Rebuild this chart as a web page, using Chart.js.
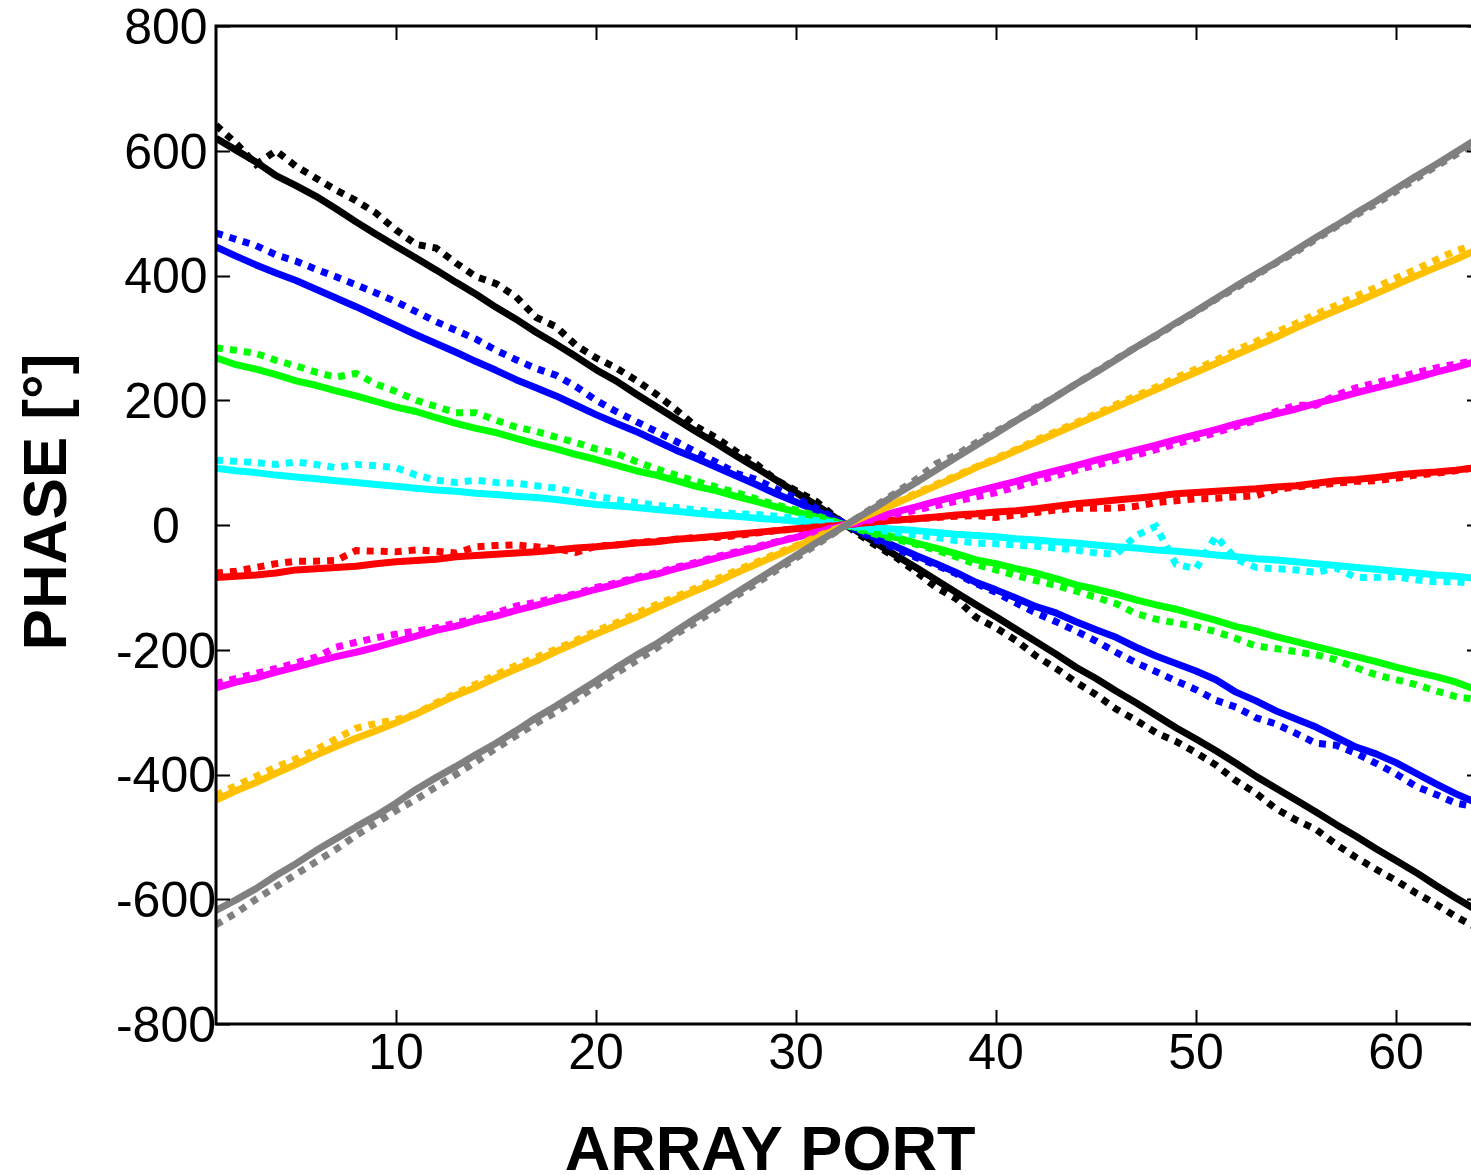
<!DOCTYPE html>
<html>
<head>
<meta charset="utf-8">
<script src="https://cdn.jsdelivr.net/npm/chart.js@4.4.1/dist/chart.umd.min.js"></script>
<style>
  html, body { margin: 0; padding: 0; background: #ffffff; overflow: hidden; }
</style>
</head>
<body>
<canvas id="chartPhase" width="1471" height="1175"></canvas>
<script>
// ===========================================
// PHASE vs ARRAY PORT - solid / dotted pairs for 8 steering settings
// ===========================================

const ports = [
    1, 2, 3, 4, 5, 6, 7, 8, 9, 10, 11, 12, 13, 14, 15, 16,
    17, 18, 19, 20, 21, 22, 23, 24, 25, 26, 27, 28, 29, 30, 31, 32,
    33, 34, 35, 36, 37, 38, 39, 40, 41, 42, 43, 44, 45, 46, 47, 48,
    49, 50, 51, 52, 53, 54, 55, 56, 57, 58, 59, 60, 61, 62, 63, 64
];

const xTickValues = [10, 20, 30, 40, 50, 60];
const yTickValues = [-800, -600, -400, -200, 0, 200, 400, 600, 800];

const blackSolid = [
    620, 601, 582, 560, 544, 527, 507, 486, 466, 447, 428, 409, 389, 370, 349, 330,
    309, 290, 270, 249, 231, 210, 190, 170, 150, 131, 111, 92, 72, 52, 32, 11,
    -9, -29, -49, -68, -88, -108, -128, -147, -167, -187, -207, -228, -246, -266, -285, -305,
    -325, -343, -362, -382, -403, -422, -441, -460, -480, -499, -519, -538, -557, -578, -598, -617
];
const blackDotted = [
    641, 612, 578, 600, 575, 556, 537, 520, 500, 473, 450, 444, 420, 398, 387, 366,
    333, 318, 288, 268, 252, 232, 210, 185, 158, 140, 118, 98, 72, 55, 38, 12,
    -12, -33, -52, -75, -100, -118, -148, -165, -185, -210, -230, -252, -272, -295, -313, -333,
    -347, -365, -385, -410, -430, -455, -473, -488, -512, -533, -552, -570, -590, -608, -628, -645
];
const blueSolid = [
    446, 431, 417, 404, 392, 378, 364, 350, 335, 320, 305, 291, 277, 262, 248, 233,
    220, 207, 192, 177, 163, 150, 135, 120, 107, 93, 79, 65, 50, 37, 23, 8,
    -7, -21, -35, -49, -62, -76, -92, -104, -117, -131, -141, -155, -168, -180, -196, -210,
    -222, -234, -248, -268, -282, -298, -311, -324, -340, -356, -367, -381, -398, -415, -431, -445
];
const blueDotted = [
    468, 458, 448, 433, 423, 410, 398, 385, 372, 358, 342, 326, 312, 298, 280, 265,
    251, 240, 222, 200, 182, 166, 150, 134, 117, 101, 83, 73, 58, 43, 27, 10,
    -8, -24, -38, -52, -64, -78, -94, -108, -125, -141, -155, -170, -186, -204, -221, -235,
    -250, -264, -281, -292, -309, -319, -334, -350, -353, -366, -382, -399, -419, -432, -446, -452
];
const greenSolid = [
    268, 257, 250, 241, 231, 224, 215, 207, 198, 189, 182, 172, 163, 155, 148, 139,
    130, 122, 113, 105, 96, 87, 80, 71, 62, 55, 46, 38, 29, 21, 13, 4,
    -4, -13, -20, -29, -37, -46, -56, -62, -70, -77, -86, -96, -103, -111, -120, -128,
    -135, -144, -153, -163, -170, -179, -187, -195, -203, -211, -219, -228, -236, -243, -252, -264
];
const greenDotted = [
    284, 280, 275, 264, 255, 245, 237, 243, 226, 214, 200, 190, 180, 180, 168, 157,
    150, 141, 132, 122, 115, 102, 90, 80, 70, 61, 52, 42, 32, 24, 15, 5,
    -6, -15, -23, -31, -40, -51, -63, -72, -81, -89, -97, -106, -116, -126, -142, -151,
    -157, -163, -171, -182, -194, -198, -203, -208, -216, -229, -240, -248, -256, -266, -275, -280
];
const cyanSolid = [
    91, 87, 84, 80, 77, 74, 71, 68, 65, 62, 59, 56, 54, 51, 49, 46,
    44, 41, 37, 33, 31, 28, 25, 22, 19, 16, 14, 11, 9, 6, 4, 1,
    -2, -4, -7, -9, -12, -15, -17, -19, -22, -24, -27, -29, -32, -35, -37, -40,
    -42, -45, -48, -51, -54, -56, -59, -62, -65, -68, -71, -74, -77, -80, -82, -86
];
const cyanDotted = [
    104, 102, 100, 97, 101, 97, 92, 97, 95, 92, 80, 72, 68, 72, 68, 67,
    63, 59, 53, 46, 41, 36, 32, 28, 24, 21, 18, 17, 14, 11, 7, 3,
    -3, -8, -12, -16, -20, -25, -29, -30, -32, -34, -37, -40, -45, -47, -17, -2,
    -63, -70, -18, -55, -68, -70, -72, -76, -69, -84, -84, -83, -88, -91, -91, -94
];
const redSolid = [
    -84, -82, -80, -77, -72, -70, -68, -66, -62, -59, -57, -55, -51, -49, -47, -45,
    -43, -40, -37, -35, -32, -29, -27, -23, -21, -18, -15, -12, -9, -6, -4, -1,
    2, 5, 8, 10, 13, 16, 18, 21, 23, 26, 30, 34, 37, 40, 43, 46,
    50, 52, 54, 56, 58, 61, 63, 67, 71, 73, 76, 80, 83, 85, 88, 92
];
const redDotted = [
    -77, -74, -68, -62, -58, -58, -57, -41, -42, -43, -40, -42, -45, -35, -33, -32,
    -35, -38, -44, -34, -32, -28, -26, -23, -20, -20, -17, -13, -9, -6, -3, -1,
    2, 5, 8, 10, 12, 14, 15, 12, 16, 20, 24, 27, 27, 27, 30, 36,
    39, 42, 43, 45, 47, 57, 61, 64, 67, 70, 71, 75, 80, 83, 87, 92
];
const magentaSolid = [
    -261, -252, -245, -236, -228, -219, -211, -204, -196, -187, -178, -169, -162, -153, -146, -137,
    -129, -120, -112, -103, -95, -86, -79, -70, -62, -53, -45, -37, -28, -20, -12, -4,
    4, 12, 21, 29, 38, 46, 54, 62, 70, 79, 87, 95, 104, 112, 120, 128,
    137, 145, 153, 162, 170, 178, 186, 195, 203, 212, 220, 228, 236, 245, 253, 262
];
const magentaDotted = [
    -254, -246, -238, -230, -221, -212, -196, -188, -181, -175, -170, -165, -157, -150, -141, -130,
    -124, -117, -110, -100, -93, -84, -77, -68, -60, -51, -43, -35, -27, -19, -11, -3,
    3, 10, 17, 24, 31, 38, 45, 52, 61, 70, 79, 88, 96, 104, 112, 121,
    130, 139, 148, 158, 168, 182, 192, 192, 208, 220, 228, 236, 244, 252, 258, 264
];
const orangeSolid = [
    -441, -426, -413, -398, -384, -369, -355, -342, -330, -317, -303, -288, -273, -260, -245, -231,
    -218, -203, -189, -175, -161, -148, -133, -119, -105, -92, -77, -63, -49, -35, -21, -7,
    7, 21, 35, 49, 63, 77, 92, 105, 119, 133, 147, 161, 175, 189, 203, 217,
    231, 245, 259, 273, 287, 301, 316, 330, 344, 357, 371, 385, 399, 413, 426, 441
];
const orangeDotted = [
    -433, -418, -403, -388, -375, -360, -343, -326, -318, -312, -303, -285, -270, -255, -240, -225,
    -212, -199, -185, -170, -157, -142, -128, -115, -101, -87, -73, -60, -46, -33, -19, -6,
    8, 22, 36, 51, 65, 79, 93, 107, 121, 136, 150, 164, 178, 193, 207, 221,
    236, 250, 264, 280, 294, 309, 323, 338, 352, 367, 381, 396, 410, 425, 440, 449
];
const graySolid = [
    -618, -601, -583, -562, -543, -522, -503, -484, -466, -446, -424, -405, -387, -368, -350, -330,
    -309, -290, -270, -250, -229, -209, -191, -170, -149, -129, -109, -89, -69, -49, -29, -10,
    10, 29, 49, 68, 88, 108, 128, 147, 167, 186, 206, 226, 245, 265, 285, 304,
    324, 343, 363, 383, 402, 421, 441, 461, 480, 500, 519, 539, 559, 578, 598, 618
];
const grayDotted = [
    -641, -622, -600, -580, -560, -540, -520, -498, -478, -458, -440, -420, -400, -380, -358, -338,
    -318, -300, -280, -258, -238, -218, -198, -175, -156, -135, -114, -94, -73, -53, -32, -11,
    10, 31, 52, 73, 98, 112, 132, 150, 167, 188, 206, 226, 246, 266, 285, 303,
    323, 342, 362, 380, 400, 420, 438, 458, 478, 497, 515, 535, 555, 575, 594, 613
];

const seriesNames = ['black', 'blue', 'green', 'cyan', 'red', 'magenta', 'orange', 'gray'];
const seriesColors = ['#000000', '#0000ff', '#00ff00', '#00ffff', '#ff0000', '#ff00ff', '#ffc000', '#808080'];
const solidSeries = [blackSolid, blueSolid, greenSolid, cyanSolid, redSolid, magentaSolid, orangeSolid, graySolid];
const dottedSeries = [blackDotted, blueDotted, greenDotted, cyanDotted, redDotted, magentaDotted, orangeDotted, grayDotted];

const FONT = '"Liberation Sans", Arial, Helvetica, sans-serif';

// ============================
// DATASETS (later series drawn on top)
// ============================
const datasets = [];
seriesNames.forEach((name, i) => {
    datasets.push({
        label: name + ' solid',
        data: ports.map((p, k) => ({ x: p, y: solidSeries[i][k] })),
        borderColor: seriesColors[i],
        borderWidth: 7,
        borderJoinStyle: 'round',
        pointRadius: 0,
        tension: 0,
        order: 100 - i * 2
    });
    datasets.push({
        label: name + ' dotted',
        data: ports.map((p, k) => ({ x: p, y: dottedSeries[i][k] })),
        borderColor: seriesColors[i],
        borderWidth: 7,
        borderDash: [7, 7],
        borderCapStyle: 'butt',
        pointRadius: 0,
        tension: 0,
        order: 99 - i * 2
    });
});

// ============================
// FRAME, INWARD TICKS AND AXIS TITLES
// ============================
const axisFrame = {
    id: 'axisFrame',
    afterDatasetsDraw(chart) {
        const { ctx, chartArea: a, scales: { x, y } } = chart;
        ctx.save();
        ctx.strokeStyle = '#000';
        ctx.lineCap = 'butt';

        ctx.lineWidth = 3;
        ctx.beginPath();
        ctx.moveTo(a.right + 2, a.top);
        ctx.lineTo(a.left, a.top);
        ctx.lineTo(a.left, a.bottom);
        ctx.lineTo(a.right + 2, a.bottom);
        ctx.stroke();

        ctx.lineWidth = 2;
        ctx.beginPath();
        yTickValues.forEach(v => {
            const py = Math.round(y.getPixelForValue(v)) + 0.5;
            ctx.moveTo(a.left, py);
            ctx.lineTo(a.left + 14, py);
            ctx.moveTo(a.right - 4, py);
            ctx.lineTo(a.right, py);
        });
        xTickValues.forEach(v => {
            const px = Math.round(x.getPixelForValue(v)) + 0.5;
            ctx.moveTo(px, a.bottom);
            ctx.lineTo(px, a.bottom - 14);
            ctx.moveTo(px, a.top);
            ctx.lineTo(px, a.top + 14);
        });
        ctx.stroke();
        ctx.restore();
    },
    afterDraw(chart) {
        const { ctx } = chart;
        ctx.save();
        ctx.fillStyle = '#000';
        ctx.font = 'bold 63px ' + FONT;
        ctx.textAlign = 'center';
        ctx.textBaseline = 'alphabetic';
        ctx.fillText('ARRAY PORT', 770, 1170);

        ctx.font = 'bold 62px ' + FONT;
        ctx.translate(66, 502);
        ctx.rotate(-Math.PI / 2);
        ctx.fillText('PHASE [°]', 0, 0);
        ctx.restore();
    }
};

new Chart(document.getElementById('chartPhase').getContext('2d'), {
    type: 'line',
    data: { datasets },
    plugins: [axisFrame],
    options: {
        responsive: false,
        animation: false,
        layout: { padding: { top: 26, right: 0, bottom: 0, left: 0 } },
        plugins: {
            legend: { display: false },
            tooltip: { enabled: false }
        },
        scales: {
            x: {
                type: 'linear',
                min: 1,
                max: 63.75,
                grid: { display: false, drawTicks: false },
                border: { display: false },
                afterBuildTicks: scale => { scale.ticks = xTickValues.map(v => ({ value: v })); },
                afterFit: scale => { scale.height = 151; scale.paddingLeft = 0; scale.paddingRight = 0; },
                ticks: {
                    color: '#000',
                    padding: 6,
                    maxRotation: 0,
                    autoSkip: false,
                    font: { family: FONT, size: 50, lineHeight: 1 }
                }
            },
            y: {
                type: 'linear',
                min: -800,
                max: 800,
                grid: { display: false, drawTicks: false },
                border: { display: false },
                afterBuildTicks: scale => { scale.ticks = yTickValues.map(v => ({ value: v })); },
                afterFit: scale => { scale.width = 216; scale.paddingTop = 0; scale.paddingBottom = 0; },
                ticks: {
                    color: '#000',
                    padding: 0,
                    crossAlign: 'center',
                    labelOffset: 4,
                    font: { family: FONT, size: 50, lineHeight: 1 }
                }
            }
        }
    }
});
</script>
</body>
</html>
